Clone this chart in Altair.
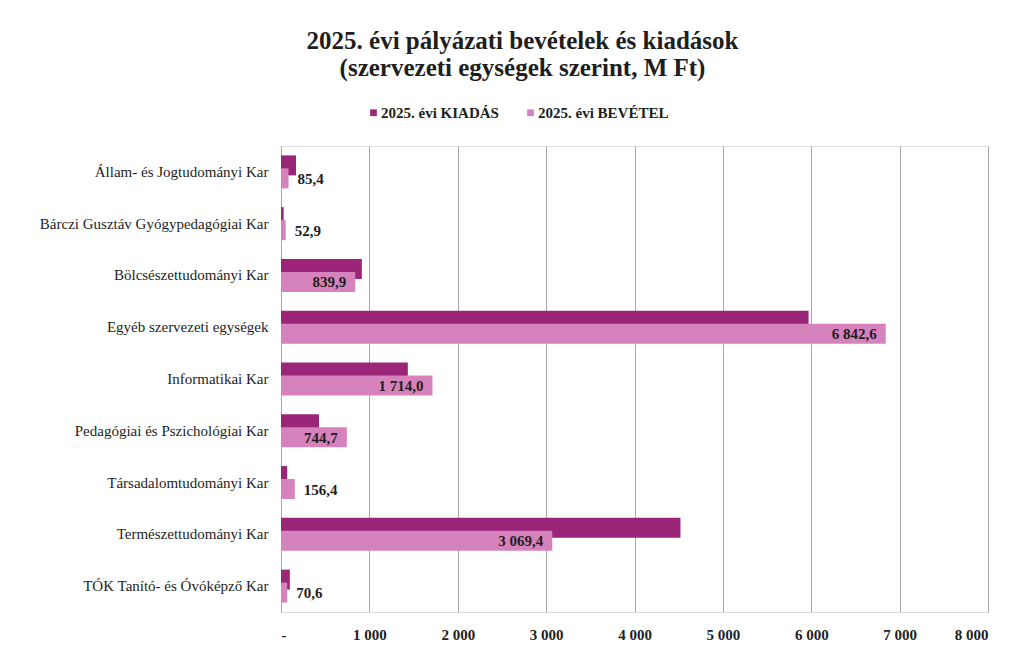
import altair as alt
import pandas as pd

categories = [
    "Állam- és Jogtudományi Kar",
    "Bárczi Gusztáv Gyógypedagógiai Kar",
    "Bölcsészettudományi Kar",
    "Egyéb szervezeti egységek",
    "Informatikai Kar",
    "Pedagógiai és Pszichológiai Kar",
    "Társadalomtudományi Kar",
    "Természettudományi Kar",
    "TÓK Tanító- és Óvóképző Kar",
]
kiadas = [170, 30, 915, 5970, 1435, 430, 70, 4520, 100]
bevetel = [85.4, 52.9, 839.9, 6842.6, 1714.0, 744.7, 156.4, 3069.4, 70.6]
series = ["2025. évi KIADÁS", "2025. évi BEVÉTEL"]
x_ticks = [0, 1000, 2000, 3000, 4000, 5000, 6000, 7000, 8000]


def hu(v):
    return f"{v:,.1f}".replace(",", " ").replace(".", ",")


rows = []
for c, k, b in zip(categories, kiadas, bevetel):
    rows.append({"kar": c, "sorozat": series[0], "ertek": k, "cimke": hu(k)})
    rows.append({"kar": c, "sorozat": series[1], "ertek": b, "cimke": hu(b)})
df = pd.DataFrame(rows)

FONT = "Liberation Serif, Times New Roman, serif"
DARK = "#9A2579"
LIGHT = "#D683BD"
TXT = "#1e1e1e"

x_enc = alt.X(
    "ertek:Q",
    scale=alt.Scale(domain=[0, 8000], nice=False),
    axis=alt.Axis(
        values=x_ticks,
        labelExpr="datum.value == 0 ? '-' : replace(format(datum.value, ','), ',', ' ')",
        title=None,
        ticks=False,
        domain=False,
        grid=True,
        gridColor="#A8A8A8",
        gridWidth=1,
        labelFont=FONT,
        labelFontWeight="bold",
        labelFontSize=15,
        labelColor=TXT,
        labelPadding=15,
    ),
)
y_enc = alt.Y(
    "kar:N",
    sort=categories,
    scale=alt.Scale(paddingInner=0, paddingOuter=0),
    axis=alt.Axis(
        title=None,
        ticks=False,
        domain=True,
        domainColor="#A8A8A8",
        labelFont=FONT,
        labelFontSize=15,
        labelColor=TXT,
        labelPadding=13,
        labelLimit=300,
    ),
)
color_enc = alt.Color(
    "sorozat:N",
    scale=alt.Scale(domain=series, range=[DARK, LIGHT]),
    legend=alt.Legend(
        title=None,
        orient="none",
        direction="horizontal",
        legendX=85,
        legendY=-41,
        symbolType="square",
        symbolSize=45,
        symbolStrokeWidth=0,
        labelFont=FONT,
        labelFontWeight="bold",
        labelFontSize=15,
        labelColor=TXT,
        columnPadding=24,
        labelOffset=0,
        padding=0,
    ),
)

base = alt.Chart(df)

bar_k = base.transform_filter(alt.datum.sorozat == series[0]).mark_bar(
    height=20, yOffset=-6.5
).encode(x=x_enc, y=y_enc, color=color_enc)

bar_b = base.transform_filter(alt.datum.sorozat == series[1]).mark_bar(
    height=20, yOffset=6.5
).encode(x=x_enc, y=y_enc, color=color_enc)

txt_in = base.transform_filter(
    (alt.datum.sorozat == series[1]) & (alt.datum.ertek > 500)
).mark_text(
    align="right", baseline="middle", dx=-9, dy=7, font=FONT,
    fontWeight="bold", fontSize=15, color=TXT
).encode(x="ertek:Q", y=alt.Y("kar:N", sort=categories), text="cimke:N")

txt_out = base.transform_filter(
    (alt.datum.sorozat == series[1]) & (alt.datum.ertek <= 500)
).mark_text(
    align="left", baseline="middle", dx=9, dy=7, font=FONT,
    fontWeight="bold", fontSize=15, color=TXT
).encode(x="ertek:Q", y=alt.Y("kar:N", sort=categories), text="cimke:N")

chart = (
    alt.layer(bar_k, bar_b, txt_in, txt_out)
    .properties(
        width=707,
        height=466,
        autosize=alt.AutoSizeParams(type="none"),
        padding={"left": 273, "top": 138, "right": 10, "bottom": 36},
        title=alt.TitleParams(
            text=["2025. évi pályázati  bevételek és kiadások", "(szervezeti egységek szerint, M Ft)"],
            font=FONT,
            fontSize=25,
            fontWeight="bold",
            color=TXT,
            anchor="middle",
            dx=-112,
            offset=24,
            lineHeight=27,
        ),
    )
    .configure_view(stroke=None)
    .configure(background="white")
)

chart.save("out.html", embed_options={"renderer": "svg", "actions": False})
